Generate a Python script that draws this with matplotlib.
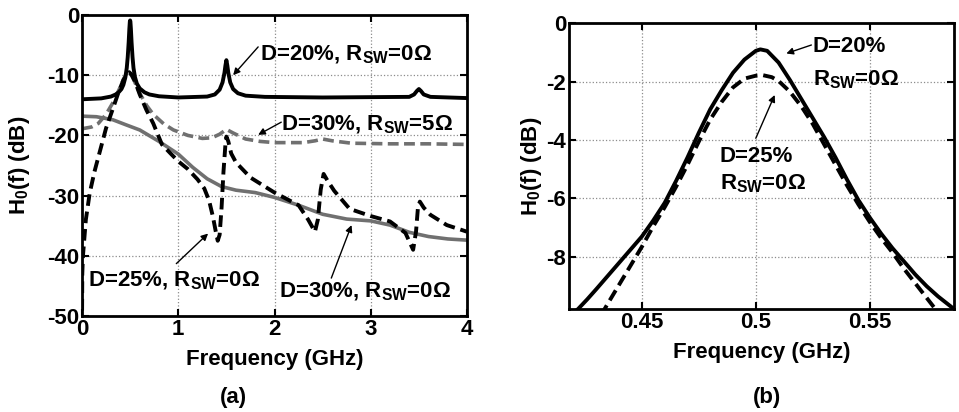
import matplotlib
matplotlib.use("Agg")
import matplotlib.pyplot as plt

plt.rcParams['font.family'] = ['Liberation Sans', 'DejaVu Sans']
plt.rcParams['font.weight'] = 'bold'
plt.rcParams['font.size'] = 16
plt.rcParams['axes.unicode_minus'] = False
plt.rcParams['mathtext.fontset'] = 'custom'
plt.rcParams['mathtext.rm'] = 'Liberation Sans:bold'
plt.rcParams['mathtext.bf'] = 'Liberation Sans:bold'

# (a) panel: respuesta en banda ancha
f_20 = [0, 0.2, 0.3, 0.35, 0.38, 0.41, 0.43, 0.45, 0.465, 0.475, 0.485, 0.492, 0.497, 0.5, 0.503,
        0.508, 0.515, 0.525, 0.535, 0.55, 0.57, 0.6, 0.65, 0.7, 0.8, 1.0, 1.3, 1.38, 1.43, 1.46,
        1.48, 1.49, 1.5, 1.51, 1.52, 1.54, 1.57, 1.62, 1.7, 1.9, 2.5, 3.4, 3.45, 3.48, 3.5, 3.52,
        3.55, 3.62, 4.0]
h_20 = [-14.0, -13.85, -13.55, -13.2, -12.85, -12.3, -11.6, -10.4, -8.8, -7.0, -4.5, -2.3, -1.1,
        -0.9, -1.1, -2.3, -4.5, -7.0, -8.8, -10.3, -11.4, -12.2, -12.85, -13.2, -13.5, -13.7,
        -13.55, -13.2, -12.4, -11.2, -9.6, -8.4, -7.5, -8.4, -9.6, -11.2, -12.3, -13.0, -13.4,
        -13.6, -13.7, -13.6, -13.2, -12.6, -12.3, -12.6, -13.2, -13.6, -13.8]

f_30r5 = [0, 0.1, 0.17, 0.25, 0.32, 0.37, 0.4, 0.43, 0.46, 0.48, 0.5, 0.52, 0.55, 0.6, 0.67, 0.74,
          0.85, 0.95, 1.1, 1.25, 1.35, 1.43, 1.5, 1.57, 1.7, 1.85, 2.0, 2.3, 2.42, 2.5, 2.6, 2.8,
          3.2, 3.6, 4.0]
h_30r5 = [-18.9, -18.6, -18.0, -16.5, -14.6, -12.9, -11.9, -10.7, -9.8, -9.5, -9.6, -10.1, -11.2,
          -13.0, -15.0, -16.5, -18.1, -19.1, -20.0, -20.5, -20.4, -19.8, -19.0, -19.6, -20.6,
          -21.0, -21.2, -21.2, -20.9, -20.6, -20.9, -21.3, -21.4, -21.4, -21.5]

f_30 = [0, 0.15, 0.32, 0.45, 0.6, 0.8, 1.0, 1.15, 1.3, 1.45, 1.6, 1.8, 2.0, 2.25, 2.5, 2.75, 3.0,
        3.2, 3.4, 3.6, 3.8, 4.0]
h_30 = [-16.8, -16.9, -17.4, -18.2, -19.1, -21.0, -23.1, -25.3, -27.2, -28.5, -29.1, -29.5, -30.3,
        -31.6, -33.1, -33.9, -34.2, -34.9, -36.1, -36.8, -37.2, -37.4]

f_25 = [0, 0.003, 0.01, 0.04, 0.08, 0.13, 0.19, 0.25, 0.32, 0.38, 0.43, 0.47, 0.49, 0.51, 0.55, 0.6,
        0.67, 0.74, 0.83, 0.92, 1.0, 1.1, 1.2, 1.27, 1.32, 1.36, 1.39, 1.41, 1.43, 1.45, 1.47, 1.49,
        1.5, 1.52, 1.55, 1.6, 1.75, 2.0, 2.25, 2.35, 2.42, 2.45, 2.48, 2.51, 2.55, 2.62, 2.78, 3.0,
        3.2, 3.36, 3.44, 3.47, 3.49, 3.51, 3.55, 3.62, 3.79, 4.0]
h_25 = [-52, -43, -40, -34, -29.6, -26, -22.4, -18.8, -15.6, -12.8, -10.8, -9.8, -9.5, -9.8, -11.0,
        -13.2, -15.8, -18.0, -21.5, -23.0, -24.3, -25.6, -27.3, -28.8, -30.8, -33.5, -36.0, -37.5,
        -36.5, -32.0, -26.0, -21.5, -20.2, -21.0, -23.0, -24.5, -27.0, -29.5, -31.6, -34.0, -36.0,
        -34.0, -29.0, -26.4, -27.5, -29.2, -32.2, -33.4, -34.3, -36.2, -39.0, -36.0, -32.0, -31.0,
        -32.0, -33.2, -34.9, -36.0]

# (b) panel: detalle cerca de 0.5 GHz
fb_20 = [0.418, 0.422, 0.426, 0.43, 0.435, 0.44, 0.445, 0.45, 0.455, 0.46, 0.465, 0.47, 0.475, 0.48,
         0.485, 0.49, 0.495, 0.5, 0.502, 0.505, 0.51, 0.515, 0.52, 0.525, 0.53, 0.535, 0.54, 0.545,
         0.55, 0.555, 0.56, 0.565, 0.57, 0.575, 0.58, 0.587]
hb_20 = [-10.05, -9.78, -9.45, -9.1, -8.65, -8.2, -7.75, -7.3, -6.75, -6.15, -5.4, -4.6, -3.75, -2.95,
         -2.3, -1.7, -1.25, -0.95, -0.9, -0.95, -1.35, -1.95, -2.6, -3.25, -3.9, -4.6, -5.35, -6.05,
         -6.65, -7.2, -7.7, -8.15, -8.6, -9.0, -9.35, -9.78]

fb_25 = [0.432, 0.435, 0.44, 0.445, 0.45, 0.455, 0.46, 0.465, 0.47, 0.475, 0.48, 0.485, 0.49, 0.495,
         0.5, 0.503, 0.507, 0.51, 0.515, 0.52, 0.525, 0.53, 0.535, 0.54, 0.545, 0.55, 0.555, 0.56,
         0.565, 0.57, 0.575, 0.58]
hb_25 = [-10.0, -9.6, -8.95, -8.3, -7.65, -6.95, -6.3, -5.6, -4.85, -4.05, -3.3, -2.7, -2.2, -1.9,
         -1.8, -1.78, -1.85, -1.98, -2.35, -2.85, -3.45, -4.15, -4.85, -5.55, -6.2, -6.8, -7.35,
         -7.85, -8.4, -8.9, -9.4, -9.9]

GRAY = '#707070'
RSW = r'R$_{\mathbf{SW}}$'


def estilo(ax):
    ax.grid(True, color='0.55', linestyle=':', linewidth=0.9)
    ax.tick_params(direction='in', length=5, width=1.5, top=True, right=True, pad=2)
    for s in ax.spines.values():
        s.set_linewidth(2)
    for lab in ax.get_xticklabels() + ax.get_yticklabels():
        lab.set_fontweight('bold')


fig = plt.figure(figsize=(9.59, 4.12), dpi=100)
ax1 = fig.add_axes([0.0855, 0.233, 0.4015, 0.7306])
ax2 = fig.add_axes([0.5933, 0.25, 0.4015, 0.694])

ax1.plot(f_30, h_30, color=GRAY, lw=2.6)
ax1.plot(f_30r5, h_30r5, color=GRAY, lw=2.6, linestyle=(0, (3, 1.5)))
ax1.plot(f_25, h_25, color='k', lw=2.8, linestyle=(0, (3, 1.5)))
ax1.plot(f_20, h_20, color='k', lw=2.8)
ax1.set_xlim(0, 4)
ax1.set_ylim(-50, 0)
ax1.set_xticks([0, 1, 2, 3, 4])
ax1.set_yticks([-50, -40, -30, -20, -10, 0])
ax1.set_xlabel('Frequency (GHz)', fontweight='bold')
ax1.set_ylabel(r'H$_{\mathbf{0}}$(f) (dB)', fontweight='bold')
ax1.xaxis.set_label_coords(0.5, -0.11)
ax1.yaxis.set_label_coords(-0.13, 0.5)
estilo(ax1)

flecha = dict(arrowstyle='-|>', lw=1, color='k', mutation_scale=10, shrinkA=0, shrinkB=0)
ax1.annotate('', xy=(1.57, -10), xytext=(1.83, -5.3), arrowprops=flecha)
ax1.text(1.85, -6.6, 'D=20%, ' + RSW + '=0Ω', va='center', ha='left')
ax1.annotate('', xy=(1.83, -19.9), xytext=(2.07, -17.8), arrowprops=flecha)
ax1.text(2.07, -18.3, 'D=30%, ' + RSW + '=5Ω', va='center', ha='left')
ax1.annotate('', xy=(1.31, -36.3), xytext=(0.98, -41.3), arrowprops=flecha)
ax1.text(0.065, -44.2, 'D=25%, ' + RSW + '=0Ω', va='center', ha='left')
ax1.annotate('', xy=(2.80, -34.9), xytext=(2.59, -43.7), arrowprops=flecha)
ax1.text(2.05, -46.0, 'D=30%, ' + RSW + '=0Ω', va='center', ha='left')

ax2.plot(fb_25, hb_25, color='k', lw=2.8, linestyle=(0, (3, 1.5)))
ax2.plot(fb_20, hb_20, color='k', lw=2.8)
ax2.set_xlim(0.418, 0.587)
ax2.set_ylim(-9.78, 0)
ax2.set_xticks([0.45, 0.5, 0.55])
ax2.set_xticklabels(['0.45', '0.5', '0.55'])
ax2.set_yticks([-8, -6, -4, -2, 0])
ax2.set_xlabel('Frequency (GHz)', fontweight='bold')
ax2.set_ylabel(r'H$_{\mathbf{0}}$(f) (dB)', fontweight='bold')
ax2.xaxis.set_label_coords(0.5, -0.115)
ax2.yaxis.set_label_coords(-0.066, 0.5)
estilo(ax2)

ax2.annotate('', xy=(0.5134, -1.04), xytext=(0.5244, -0.75), arrowprops=flecha)
ax2.text(0.525, -0.81, 'D=20%', va='center', ha='left')
ax2.text(0.525, -1.95, RSW + '=0Ω', va='center', ha='left')
ax2.annotate('', xy=(0.5083, -2.46), xytext=(0.500, -3.94), arrowprops=flecha)
ax2.text(0.4841, -4.57, 'D=25%', va='center', ha='left')
ax2.text(0.4841, -5.48, RSW + '=0Ω', va='center', ha='left')

fig.text(233 / 959, 1 - 398 / 412, '(a)', ha='center', va='center', fontweight='bold')
fig.text(767 / 959, 1 - 398 / 412, '(b)', ha='center', va='center', fontweight='bold')

fig.savefig('out.png', dpi=100)
